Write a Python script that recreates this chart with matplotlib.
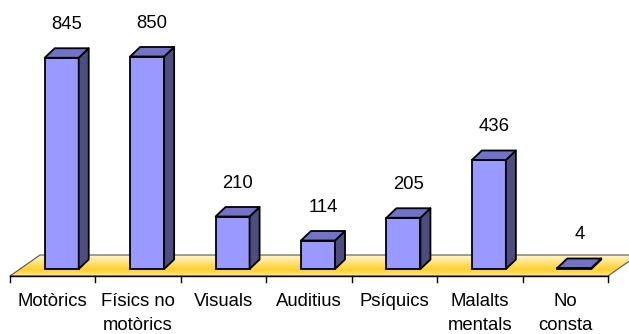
import numpy as np
import matplotlib
matplotlib.use("Agg")
import matplotlib.pyplot as plt
from matplotlib.patches import Polygon
from matplotlib.colors import LinearSegmentedColormap

# data
categories = ["Motòrics", "Físics no\nmotòrics", "Visuals", "Auditius", "Psíquics", "Malalts\nmentals", "No\nconsta"]
values = [845, 850, 210, 114, 205, 436, 4]

plt.rcParams['font.family'] = ['Liberation Sans', 'DejaVu Sans']

W, H = 629, 334
fig = plt.figure(figsize=(W / 100, H / 100), dpi=100)
ax = fig.add_axes([0, 0, 1, 1])
ax.axis("off")

# pixel -> data scale: one category = 85.43 px, one value unit = 0.25 px
cat_px = 85.43
val_px = 0.25
px_x = 1.0 / cat_px
px_y = 1.0 / val_px
ax.set_xlim(-0.5 - 10 * px_x, -0.5 + (W - 10) * px_x)
ax.set_ylim(-(H - 269) * px_y, 269 * px_y)

n = len(values)
front_col = "#9999FF"
top_col = "#7272C8"
side_col = "#4D4D82"

# floor (yellow 3D wall)
f_front = -7 * px_y
f_dx, f_dy = 30 * px_x, 21 * px_y
floor = [(-0.5, f_front), (n - 0.5, f_front), (n - 0.5 + f_dx, f_front + f_dy), (-0.5 + f_dx, f_front + f_dy)]
cmap = LinearSegmentedColormap.from_list("floor", [(0, "#FFE780"), (0.3, "#FFD030"), (0.6, "#FFE070"), (1, "#FFF6CC")])
grad = np.linspace(0, 1, 64).reshape(-1, 1)
im = ax.imshow(grad, cmap=cmap, aspect="auto", origin="lower",
               extent=(-0.5, n - 0.5 + f_dx, f_front, f_front + f_dy), zorder=1)
fpoly = Polygon(floor, closed=True, facecolor="none", edgecolor="#555555", lw=0.8, zorder=2)
ax.add_patch(fpoly)
im.set_clip_path(fpoly)

# axis line and ticks
ax.plot([-0.5, n - 0.5], [f_front, f_front], color="black", lw=1, zorder=3)
for b in np.arange(-0.5, n, 1.0):
    ax.plot([b, b], [f_front, f_front - 6 * px_y], color="black", lw=1, zorder=3)

# bars
off = 9 * px_x
bw = 34 * px_x
dx, dy = 10 * px_x, 9.5 * px_y
for i, v in enumerate(values):
    x0 = i + off - bw / 2
    x1 = x0 + bw
    ax.bar(i + off, v, width=bw, bottom=0, color=front_col, edgecolor="black", lw=1.3, zorder=4)
    side = [(x1, 0), (x1 + dx, dy), (x1 + dx, v + dy), (x1, v)]
    top = [(x0, v), (x0 + dx, v + dy), (x1 + dx, v + dy), (x1, v)]
    ax.add_patch(Polygon(side, closed=True, facecolor=side_col, edgecolor="black", lw=1.3, zorder=4, joinstyle="round"))
    ax.add_patch(Polygon(top, closed=True, facecolor=top_col, edgecolor="black", lw=1.3, zorder=4, joinstyle="round"))
    ax.text(i + off + dx / 2, v + dy + 24 * px_y, str(v), ha="center", va="center", fontsize=13.3, zorder=5)

# category labels
for i, c in enumerate(categories):
    ax.text(i, -23.5 * px_y, c, ha="center", va="top", fontsize=13.3, linespacing=1.55)

fig.savefig("out.png", dpi=100)
